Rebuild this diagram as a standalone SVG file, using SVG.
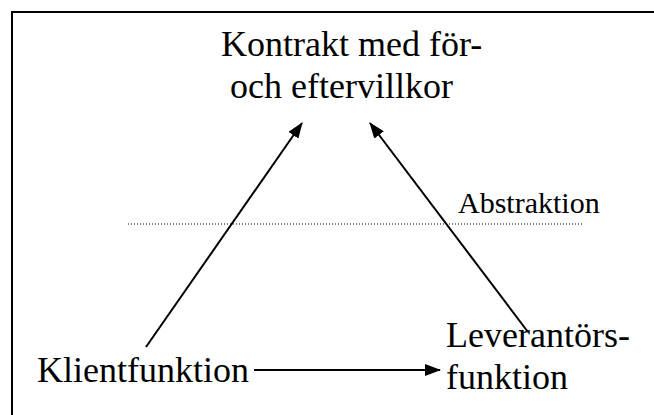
<svg xmlns="http://www.w3.org/2000/svg" width="654" height="415" viewBox="0 0 654 415">
  <style>
    text { font-family: "Liberation Serif", "Times New Roman", serif; fill: #000; }
    .big { font-size: 36px; }
    .small { font-size: 30px; }
    .conn { stroke: #000; stroke-width: 2; fill: none; }
  </style>
  <defs>
    <marker id="head" viewBox="0 0 16 12" refX="15" refY="6" markerWidth="16" markerHeight="12" markerUnits="userSpaceOnUse" orient="auto">
      <path d="M0,0 L16,6 L0,12 Z" fill="#000"/>
    </marker>
  </defs>
  <rect width="654" height="415" fill="#fff"/>
  <!-- frame, open past the right and bottom edges -->
  <rect x="12" y="12" width="700" height="500" fill="none" stroke="#000" stroke-width="2"/>

  <g id="contract">
    <text class="big" x="221" y="56">Kontrakt med för-</text>
    <text class="big" x="230" y="98">och eftervillkor</text>
  </g>
  <g id="abstraction">
    <line x1="128" y1="224" x2="582" y2="224" stroke="#000" stroke-width="1" stroke-dasharray="1 2"/>
    <text class="small" x="458" y="213">Abstraktion</text>
  </g>
  <g id="client">
    <text class="big" x="37" y="382">Klientfunktion</text>
  </g>
  <g id="supplier">
    <text class="big" x="446" y="347">Leverantörs-</text>
    <text class="big" x="446" y="389">funktion</text>
  </g>

  <g id="connectors">
    <line class="conn" x1="146" y1="347" x2="302" y2="123" marker-end="url(#head)"/>
    <line class="conn" x1="528" y1="332" x2="370" y2="123" marker-end="url(#head)"/>
    <line class="conn" x1="254" y1="370" x2="440" y2="370" marker-end="url(#head)"/>
  </g>
</svg>
